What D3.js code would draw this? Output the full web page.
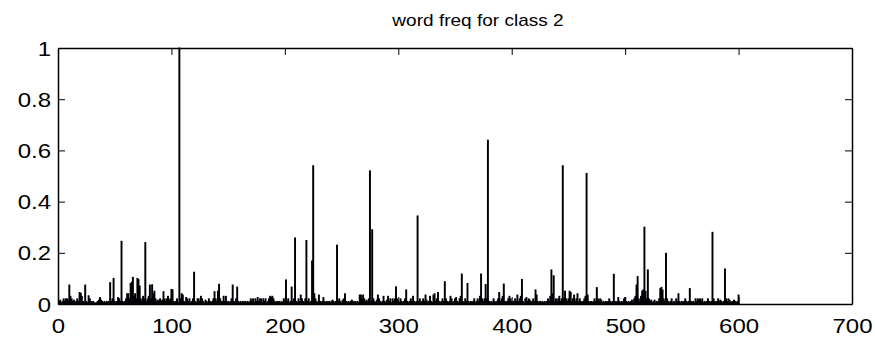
<!DOCTYPE html>
<html>
<head>
<meta charset="utf-8">
<script src="https://cdn.jsdelivr.net/npm/d3@7"></script>
<style>
  html, body { margin: 0; padding: 0; background: #fff; }
  svg { display: block; }
  text { font-family: "Liberation Sans", Arial, Helvetica, sans-serif; fill: #000; }
</style>
</head>
<body>
<svg id="chart" width="875" height="340"></svg>
<script>
// Relative word frequency for each vocabulary index (1..600), class 2
const freq = [
  // 1-20
  0.010, 0.015, 0.005, 0.010, 0.020, 0.010, 0.020, 0.020, 0.015, 0.074, 0.030, 0.020, 0.010, 0.015, 0.005, 0.010, 0.020, 0.010, 0.045, 0.042,
  // 21-40
  0.030, 0.010, 0.005, 0.074, 0.010, 0.005, 0.032, 0.020, 0.010, 0.005, 0.010, 0.005, 0.003, 0.005, 0.010, 0.015, 0.025, 0.015, 0.010, 0.005,
  // 41-60
  0.010, 0.005, 0.010, 0.005, 0.010, 0.083, 0.010, 0.020, 0.100, 0.010, 0.005, 0.010, 0.025, 0.020, 0.010, 0.245, 0.010, 0.005, 0.010, 0.020,
  // 61-80
  0.040, 0.040, 0.020, 0.080, 0.085, 0.104, 0.030, 0.040, 0.020, 0.100, 0.095, 0.070, 0.020, 0.010, 0.030, 0.020, 0.240, 0.010, 0.020, 0.030,
  // 81-100
  0.074, 0.020, 0.075, 0.040, 0.050, 0.020, 0.010, 0.015, 0.010, 0.020, 0.010, 0.015, 0.048, 0.020, 0.010, 0.020, 0.030, 0.015, 0.020, 0.057,
  // 101-120
  0.055, 0.010, 0.005, 0.010, 0.020, 0.005, 1.000, 0.020, 0.040, 0.035, 0.010, 0.005, 0.025, 0.020, 0.010, 0.020, 0.005, 0.010, 0.020, 0.124,
  // 121-140
  0.010, 0.005, 0.020, 0.020, 0.010, 0.030, 0.020, 0.010, 0.005, 0.015, 0.010, 0.005, 0.020, 0.010, 0.005, 0.010, 0.020, 0.048, 0.020, 0.010,
  // 141-160
  0.050, 0.077, 0.020, 0.010, 0.010, 0.030, 0.010, 0.030, 0.005, 0.010, 0.005, 0.010, 0.020, 0.074, 0.010, 0.005, 0.020, 0.066, 0.010, 0.005,
  // 161-180
  0.010, 0.005, 0.010, 0.005, 0.010, 0.005, 0.010, 0.005, 0.010, 0.020, 0.010, 0.020, 0.005, 0.020, 0.010, 0.025, 0.010, 0.020, 0.020, 0.005,
  // 181-200
  0.020, 0.010, 0.020, 0.005, 0.010, 0.020, 0.030, 0.025, 0.030, 0.020, 0.010, 0.005, 0.010, 0.005, 0.010, 0.005, 0.010, 0.005, 0.020, 0.010,
  // 201-220
  0.094, 0.010, 0.020, 0.005, 0.010, 0.066, 0.010, 0.020, 0.258, 0.010, 0.005, 0.020, 0.010, 0.035, 0.020, 0.010, 0.005, 0.020, 0.248, 0.010,
  // 221-240
  0.020, 0.005, 0.010, 0.168, 0.540, 0.040, 0.020, 0.010, 0.005, 0.035, 0.010, 0.005, 0.010, 0.025, 0.010, 0.005, 0.010, 0.005, 0.010, 0.005,
  // 241-260
  0.010, 0.015, 0.010, 0.005, 0.010, 0.230, 0.010, 0.020, 0.010, 0.005, 0.015, 0.020, 0.040, 0.010, 0.005, 0.010, 0.005, 0.010, 0.015, 0.010,
  // 261-280
  0.005, 0.010, 0.005, 0.010, 0.005, 0.035, 0.035, 0.020, 0.035, 0.020, 0.010, 0.015, 0.010, 0.020, 0.520, 0.010, 0.290, 0.020, 0.010, 0.005,
  // 281-300
  0.015, 0.035, 0.020, 0.010, 0.005, 0.010, 0.030, 0.010, 0.005, 0.015, 0.030, 0.010, 0.020, 0.005, 0.020, 0.010, 0.020, 0.067, 0.020, 0.010,
  // 301-320
  0.005, 0.020, 0.010, 0.005, 0.010, 0.020, 0.055, 0.010, 0.005, 0.010, 0.020, 0.010, 0.030, 0.010, 0.005, 0.010, 0.344, 0.010, 0.020, 0.005,
  // 321-340
  0.010, 0.020, 0.010, 0.035, 0.015, 0.005, 0.010, 0.030, 0.010, 0.005, 0.035, 0.040, 0.010, 0.020, 0.045, 0.010, 0.005, 0.010, 0.020, 0.010,
  // 341-360
  0.087, 0.020, 0.010, 0.005, 0.010, 0.030, 0.020, 0.005, 0.010, 0.020, 0.025, 0.010, 0.005, 0.020, 0.030, 0.117, 0.010, 0.005, 0.020, 0.010,
  // 361-380
  0.080, 0.010, 0.005, 0.010, 0.005, 0.010, 0.020, 0.005, 0.010, 0.020, 0.010, 0.030, 0.117, 0.020, 0.010, 0.020, 0.076, 0.020, 0.640, 0.010,
  // 381-400
  0.005, 0.010, 0.005, 0.020, 0.010, 0.005, 0.010, 0.020, 0.045, 0.010, 0.020, 0.030, 0.078, 0.010, 0.005, 0.010, 0.020, 0.030, 0.020, 0.010,
  // 401-420
  0.005, 0.010, 0.020, 0.010, 0.035, 0.010, 0.020, 0.030, 0.096, 0.010, 0.005, 0.020, 0.025, 0.010, 0.020, 0.015, 0.005, 0.010, 0.020, 0.010,
  // 421-440
  0.055, 0.035, 0.010, 0.005, 0.010, 0.005, 0.010, 0.005, 0.010, 0.005, 0.010, 0.020, 0.010, 0.030, 0.133, 0.040, 0.110, 0.010, 0.020, 0.010,
  // 441-460
  0.020, 0.030, 0.010, 0.020, 0.540, 0.020, 0.050, 0.020, 0.010, 0.020, 0.050, 0.045, 0.010, 0.020, 0.035, 0.010, 0.020, 0.040, 0.010, 0.020,
  // 461-480
  0.010, 0.005, 0.010, 0.020, 0.030, 0.510, 0.035, 0.010, 0.005, 0.010, 0.005, 0.010, 0.020, 0.010, 0.064, 0.020, 0.010, 0.020, 0.015, 0.005,
  // 481-500
  0.010, 0.005, 0.010, 0.005, 0.010, 0.020, 0.010, 0.005, 0.010, 0.116, 0.010, 0.005, 0.010, 0.025, 0.010, 0.005, 0.010, 0.005, 0.020, 0.025,
  // 501-520
  0.010, 0.005, 0.010, 0.005, 0.010, 0.015, 0.005, 0.020, 0.030, 0.074, 0.107, 0.020, 0.010, 0.030, 0.050, 0.055, 0.300, 0.050, 0.020, 0.133,
  // 521-540
  0.020, 0.010, 0.015, 0.005, 0.010, 0.015, 0.005, 0.010, 0.005, 0.020, 0.060, 0.065, 0.055, 0.020, 0.010, 0.198, 0.020, 0.010, 0.005, 0.010,
  // 541-560
  0.020, 0.005, 0.010, 0.005, 0.020, 0.010, 0.040, 0.010, 0.005, 0.010, 0.005, 0.010, 0.020, 0.010, 0.005, 0.010, 0.060, 0.010, 0.005, 0.010,
  // 561-580
  0.005, 0.020, 0.010, 0.020, 0.015, 0.020, 0.010, 0.020, 0.005, 0.010, 0.005, 0.010, 0.020, 0.010, 0.005, 0.010, 0.280, 0.020, 0.010, 0.005,
  // 581-600
  0.010, 0.020, 0.010, 0.015, 0.010, 0.005, 0.010, 0.137, 0.020, 0.010, 0.020, 0.015, 0.010, 0.005, 0.010, 0.015, 0.010, 0.005, 0.010, 0.035
];

const xTicks = [0, 100, 200, 300, 400, 500, 600, 700];
const yTicks = [0, 0.2, 0.4, 0.6, 0.8, 1];
const xDomain = [0, 700];
const yDomain = [0, 1];
const titleText = "word freq for class 2";

const svg = d3.select("#chart");
const plot = { left: 58, right: 852, top: 48, bottom: 304 };
const textStretch = 1.2;
const tickLen = 7;

const x = d3.scaleLinear().domain(xDomain).range([plot.left, plot.right]);
const y = d3.scaleLinear().domain(yDomain).range([plot.bottom, plot.top]);

// Bars, one per vocabulary index, width 0.8 of the slot
const halfW = 0.4;
svg.append("g")
  .attr("class", "bars")
  .selectAll("rect")
  .data(freq)
  .join("rect")
  .attr("x", (d, i) => x(i + 1 - halfW))
  .attr("width", (d, i) => x(i + 1 + halfW) - x(i + 1 - halfW))
  .attr("y", d => y(d))
  .attr("height", d => y(0) - y(d))
  .attr("fill", "#00008f")
  .attr("stroke", "#000")
  .attr("stroke-width", 1);

// Axes: labelled bottom/left, tick-only top/right, ticks pointing inward
const fmt = d3.format("~g");

const gx = svg.append("g")
  .attr("transform", `translate(0,${plot.bottom})`)
  .call(d3.axisBottom(x).tickValues(xTicks).tickFormat(fmt)
    .tickSizeInner(-tickLen).tickSizeOuter(0).tickPadding(0));

const gxTop = svg.append("g")
  .attr("transform", `translate(0,${plot.top})`)
  .call(d3.axisTop(x).tickValues(xTicks).tickFormat("")
    .tickSizeInner(-tickLen).tickSizeOuter(0));

const gy = svg.append("g")
  .attr("transform", `translate(${plot.left},0)`)
  .call(d3.axisLeft(y).tickValues(yTicks).tickFormat(fmt)
    .tickSizeInner(-tickLen).tickSizeOuter(0).tickPadding(0));

const gyRight = svg.append("g")
  .attr("transform", `translate(${plot.right},0)`)
  .call(d3.axisRight(y).tickValues(yTicks).tickFormat("")
    .tickSizeInner(-tickLen).tickSizeOuter(0));

// The four domain lines close the axes box
[gx, gxTop, gy, gyRight].forEach(g => {
  g.select(".domain").attr("stroke", "#000").attr("stroke-width", 1.5);
  g.selectAll(".tick line").attr("stroke", "#000").attr("stroke-width", 1);
});

gx.selectAll(".tick text")
  .attr("font-size", 20)
  .attr("font-family", null)
  .attr("y", 0)
  .attr("dy", null)
  .attr("transform", `translate(0,29) scale(${textStretch},1)`);

gy.selectAll(".tick text")
  .attr("font-size", 20)
  .attr("font-family", null)
  .attr("x", 0)
  .attr("dy", "0.35em")
  .attr("transform", `translate(-7,0) scale(${textStretch},1)`);

// Title
svg.append("text")
  .attr("text-anchor", "middle")
  .attr("font-size", 17)
  .attr("transform", `translate(478,26) scale(1.12,1)`)
  .text(titleText);
</script>
</body>
</html>
